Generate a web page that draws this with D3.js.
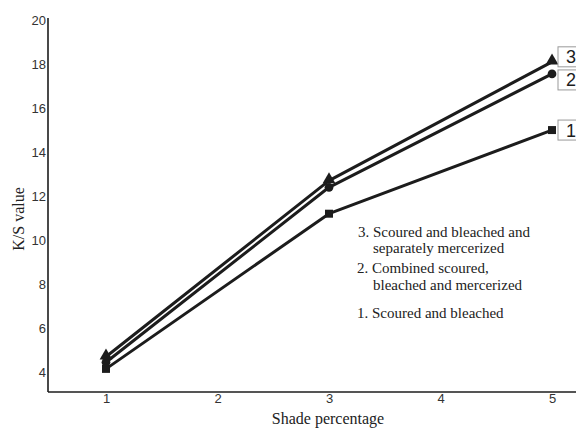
<!DOCTYPE html>
<html>
<head>
<meta charset="utf-8">
<script src="https://cdn.jsdelivr.net/npm/d3@7"></script>
<style>
  html, body { margin: 0; padding: 0; background: #fff; }
  svg { display: block; }
</style>
</head>
<body>
<svg id="chart" width="576" height="429"></svg>
<script>
// ---- data ----
const shades = [1, 3, 5];
const series1 = [4.15, 11.2, 15.0];   // Scoured and bleached (squares)
const series2 = [4.45, 12.4, 17.55];  // Combined scoured, bleached and mercerized (circles)
const series3 = [4.7, 12.7, 18.1];    // Scoured, bleached and separately mercerized (triangles)
const seriesIds = ["1", "2", "3"];
const xTicks = [1, 2, 3, 4, 5];
const yTicks = [4, 6, 8, 10, 12, 14, 16, 18, 20];
const legendLines = [
  "3. Scoured and bleached and",
  "separately mercerized",
  "2. Combined scoured,",
  "bleached and mercerized",
  "1. Scoured and bleached"
];

const svg = d3.select("#chart");
const x = d3.scaleLinear().domain([0.48, 5.215]).range([48, 576]);
const y = d3.scaleLinear().domain([3.1, 20]).range([392, 20]);

const ink = "#1c1c1c";

// axes
const xAxis = d3.axisBottom(x).tickValues(xTicks).tickSize(0).tickPadding(2).tickFormat(d3.format("d"));
const yAxis = d3.axisLeft(y).tickValues(yTicks).tickSize(0).tickPadding(2).tickFormat(d3.format("d"));

const gx = svg.append("g").attr("transform", "translate(0,392)").call(xAxis);
const gy = svg.append("g").attr("transform", "translate(48,0)").call(yAxis);
[gx, gy].forEach(g => {
  g.select(".domain").attr("stroke", ink).attr("stroke-width", 1.6);
  g.selectAll("text").attr("font-family", "Liberation Sans, Arial, sans-serif")
    .attr("font-size", 13).attr("fill", "#333");
});
gy.select(".domain").attr("d", "M0,18V392");
gx.select(".domain").attr("d", "M48,0H576");

// lines
const data = [
  { id: "1", vals: series1, marker: "square" },
  { id: "2", vals: series2, marker: "circle" },
  { id: "3", vals: series3, marker: "triangle" }
];
const line = d3.line().x((d, i) => x(shades[i])).y(d => y(d));

data.forEach(s => {
  svg.append("path").attr("d", line(s.vals)).attr("fill", "none")
    .attr("stroke", ink).attr("stroke-width", 3).attr("stroke-linejoin", "round");
});

const symType = { square: d3.symbolSquare, circle: d3.symbolCircle, triangle: d3.symbolTriangle };
const symSize = { square: 64, circle: 60, triangle: 70 };
data.forEach(s => {
  svg.append("g").selectAll("path").data(s.vals).join("path")
    .attr("transform", (d, i) => `translate(${x(shades[i])},${y(d) - (s.marker === "triangle" ? 1 : 0)})`)
    .attr("d", d3.symbol().type(symType[s.marker]).size(symSize[s.marker]))
    .attr("fill", ink);
});

// end labels (boxed)
const labelShift = { "1": 0, "2": 6, "3": -5 };
data.forEach(s => {
  const yy = y(s.vals[s.vals.length - 1]) + labelShift[s.id];
  const g = svg.append("g");
  g.append("rect").attr("x", 558).attr("y", yy - 10)
    .attr("width", 30).attr("height", 20).attr("fill", "#fff").attr("stroke", "#999").attr("stroke-width", 1);
  g.append("text").attr("x", 566).attr("y", yy)
    .attr("dy", "0.36em").attr("font-family", "Liberation Sans, Arial, sans-serif")
    .attr("font-size", 18).attr("fill", ink).text(s.id);
});

// legend text
const legendPos = [[358, 232], [373, 248], [357, 268], [373, 285], [357, 313]];
svg.append("g").selectAll("text").data(legendLines).join("text")
  .attr("x", (d, i) => legendPos[i][0]).attr("y", (d, i) => legendPos[i][1])
  .attr("dy", "0.35em")
  .attr("font-family", "Liberation Serif, Times New Roman, serif")
  .attr("font-size", 15).attr("fill", "#222").text(d => d);

// axis titles
svg.append("text").attr("x", 328).attr("y", 418).attr("dy", "0.35em").attr("text-anchor", "middle")
  .attr("font-family", "Liberation Serif, Times New Roman, serif").attr("font-size", 16)
  .attr("fill", "#222").text("Shade percentage");
svg.append("text").attr("transform", "translate(18,219) rotate(-90)").attr("dy", "0.35em")
  .attr("text-anchor", "middle")
  .attr("font-family", "Liberation Serif, Times New Roman, serif").attr("font-size", 16)
  .attr("fill", "#222").text("K/S value");
</script>
</body>
</html>
